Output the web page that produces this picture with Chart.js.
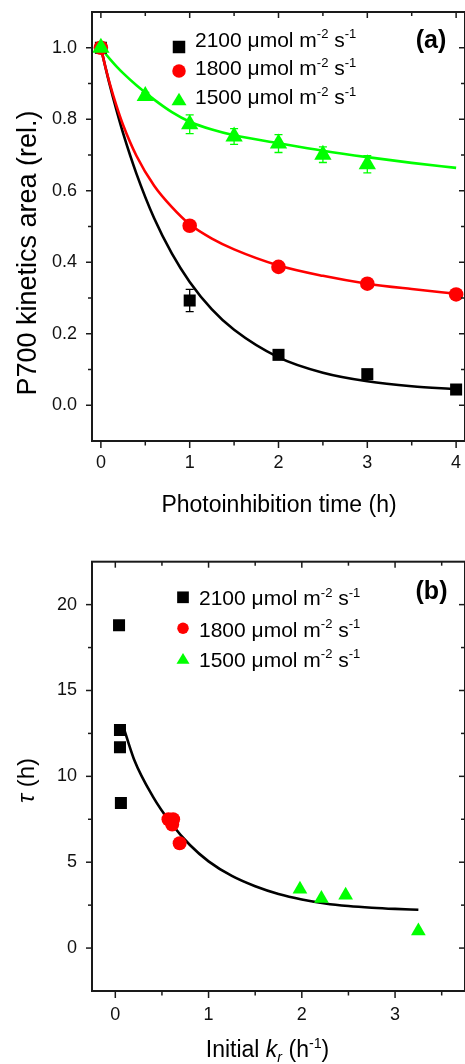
<!DOCTYPE html>
<html>
<head>
<meta charset="utf-8">
<script src="https://cdn.jsdelivr.net/npm/chart.js@4.4.1/dist/chart.umd.min.js"></script>
<style>
html,body{margin:0;padding:0;background:#fff;overflow:hidden;width:465px;height:1064px;}
#wrapA{position:absolute;left:0;top:0;width:465px;height:520px;}
#wrapB{position:absolute;left:0;top:520px;width:465px;height:544px;}
canvas{display:block;}
</style>
</head>
<body>
<div id="wrapA"><canvas id="chartA" width="465" height="520"></canvas></div>
<div id="wrapB"><canvas id="chartB" width="465" height="544"></canvas></div>
<script>
// ---------- DATA: panel (a) ----------
const t2100 = [0, 1, 2, 3, 4];
const p2100 = [1.0, 0.293, 0.141, 0.087, 0.044];
const e2100 = [0, 0.031, 0.008, 0.008, 0.008];

const t1800 = [0, 1, 2, 3, 4];
const p1800 = [1.0, 0.502, 0.387, 0.340, 0.310];
const e1800 = [0, 0.01, 0.008, 0.008, 0.008];

const t1500 = [0, 0.5, 1, 1.5, 2, 2.5, 3];
const p1500 = [1.0, 0.865, 0.786, 0.752, 0.732, 0.701, 0.674];
const e1500 = [0, 0.01, 0.026, 0.022, 0.025, 0.022, 0.024];

// fitted curves
const fitT     = [0, 0.05, 0.1, 0.175, 0.25, 0.4, 0.6, 0.8, 1, 1.25, 1.5, 2, 2.5, 3, 3.5, 4];
const fit2100  = [1.0, 0.947, 0.896, 0.826, 0.761, 0.648, 0.523, 0.424, 0.345, 0.268, 0.211, 0.134, 0.091, 0.067, 0.053, 0.045];
const fit1800  = [1.0, 0.947, 0.900, 0.838, 0.784, 0.698, 0.614, 0.554, 0.506, 0.466, 0.436, 0.391, 0.362, 0.340, 0.325, 0.312];
const fit1500  = [1.0, 0.984, 0.969, 0.948, 0.929, 0.895, 0.855, 0.820, 0.793, 0.771, 0.755, 0.733, 0.712, 0.694, 0.678, 0.664];

const xTicksA = [0, 1, 2, 3, 4];
const xMinorA = [0.5, 1.5, 2.5, 3.5];
const yTicksA = [0.0, 0.2, 0.4, 0.6, 0.8, 1.0];
const yMinorA = [0.1, 0.3, 0.5, 0.7, 0.9];

// ---------- DATA: panel (b) ----------
const kr2100  = [0.04, 0.05, 0.05, 0.06];
const tau2100 = [18.8, 12.7, 11.7, 8.45];
const kr1800  = [0.57, 0.62, 0.61, 0.69];
const tau1800 = [7.5, 7.5, 7.2, 6.1];
const kr1500  = [1.98, 2.21, 2.47, 3.25];
const tau1500 = [3.42, 2.88, 3.08, 1.0];

const fitKr  = [0.08, 0.2, 0.4, 0.6, 0.8, 1.0, 1.25, 1.5, 1.75, 2.0, 2.25, 2.5, 2.75, 3.0, 3.25];
const fitTau = [13.0, 11.0, 8.85, 7.25, 6.0, 5.05, 4.2, 3.6, 3.15, 2.83, 2.6, 2.45, 2.35, 2.28, 2.23];

const xTicksB = [0, 1, 2, 3];
const xMinorB = [0.5, 1.5, 2.5, 3.5];
const yTicksB = [0, 5, 10, 15, 20];
const yMinorB = [2.5, 7.5, 12.5, 17.5];

// ---------- TEXT ----------
const intensities = ['2100', '1800', '1500'];
const unitText = ' \u03bcmol m';
const xTitleA = 'Photoinhibition time (h)';
const yTitleA = 'P700 kinetics area (rel.)';
const panelA = '(a)';
const panelB = '(b)';

// ---------- STYLE ----------
const FONT = '"Liberation Sans", Arial, Helvetica, sans-serif';
const BLACK = '#000000', RED = '#ff0000', GREEN = '#00ff00';
const seriesColors = [BLACK, RED, GREEN];
const seriesStyles = ['rect', 'circle', 'triangle'];

function pts(xs, ys) { return xs.map((x, i) => ({x: x, y: ys[i]})); }

function drawRich(ctx, segs, x, y, size, rot, align) {
  ctx.save();
  ctx.translate(x, y);
  ctx.rotate(rot || 0);
  ctx.textBaseline = 'alphabetic';
  ctx.textAlign = 'left';
  ctx.fillStyle = '#000';
  let w = 0;
  const parts = segs.map(s => {
    const fs = (s.sup || s.sub) ? size * 0.62 : size;
    const font = (s.it ? 'italic ' : '') + (s.bold ? 'bold ' : '') + fs + 'px ' + FONT;
    ctx.font = font;
    const m = ctx.measureText(s.t).width;
    w += m;
    return {t: s.t, font: font, m: m, dy: s.sup ? -size * 0.40 : (s.sub ? size * 0.22 : 0)};
  });
  let cx = align === 'left' ? 0 : -w / 2;
  parts.forEach(p => { ctx.font = p.font; ctx.fillText(p.t, cx, p.dy); cx += p.m; });
  ctx.restore();
}

function drawMarker(ctx, style, x, y, size, color) {
  ctx.save();
  ctx.fillStyle = color;
  ctx.beginPath();
  if (style === 'rect') ctx.rect(x - size / 2, y - size / 2, size, size);
  else if (style === 'circle') ctx.arc(x, y, size / 2, 0, Math.PI * 2);
  else {
    const h = size * 0.82;
    ctx.moveTo(x, y - h / 2); ctx.lineTo(x + size / 2, y + h / 2); ctx.lineTo(x - size / 2, y + h / 2); ctx.closePath();
  }
  ctx.fill();
  ctx.restore();
}

const decoPlugin = {
  id: 'deco',
  beforeDatasetsDraw(chart) {
    const {ctx} = chart;
    const xs = chart.scales.x, ys = chart.scales.y;
    chart.data.datasets.forEach(ds => {
      if (!ds.errorBars) return;
      ctx.save();
      ctx.strokeStyle = ds.backgroundColor;
      ctx.lineWidth = 1.3;
      ds.data.forEach((d, j) => {
        const e = ds.errorBars[j];
        if (!e) return;
        const px = xs.getPixelForValue(d.x);
        const y1 = ys.getPixelForValue(d.y + e), y2 = ys.getPixelForValue(d.y - e);
        ctx.beginPath();
        ctx.moveTo(px, y1); ctx.lineTo(px, y2);
        ctx.moveTo(px - 4, y1); ctx.lineTo(px + 4, y1);
        ctx.moveTo(px - 4, y2); ctx.lineTo(px + 4, y2);
        ctx.stroke();
      });
      ctx.restore();
    });
  },
  afterDraw(chart, args, o) {
    const {ctx, chartArea: a} = chart;
    const xs = chart.scales.x, ys = chart.scales.y;
    ctx.save();
    ctx.strokeStyle = '#1a1a1a';
    ctx.lineWidth = 1.5;
    const seg = (x1, y1, x2, y2) => { ctx.beginPath(); ctx.moveTo(x1, y1); ctx.lineTo(x2, y2); ctx.stroke(); };
    o.xMajor.forEach(v => { const p = xs.getPixelForValue(v); seg(p, a.bottom, p, a.bottom + 7); seg(p, a.top, p, a.top + 6); });
    o.xMinor.forEach(v => { const p = xs.getPixelForValue(v); seg(p, a.bottom, p, a.bottom + 4.5); seg(p, a.top, p, a.top + 4); });
    o.yMajor.forEach(v => { const p = ys.getPixelForValue(v); seg(a.left - 6, p, a.left, p); seg(a.right - 6, p, a.right, p); });
    o.yMinor.forEach(v => { const p = ys.getPixelForValue(v); seg(a.left - 4, p, a.left, p); seg(a.right - 4, p, a.right, p); });
    ctx.lineWidth = 2;
    ctx.strokeRect(a.left, a.top, a.right - a.left, a.bottom - a.top);
    ctx.restore();

    // legend
    const L = o.legend;
    intensities.forEach((lab, i) => {
      drawMarker(ctx, seriesStyles[i], L.mx, L.my[i], L.msize[i], seriesColors[i]);
      drawRich(ctx, [{t: lab + unitText}, {t: '-2', sup: true}, {t: ' s'}, {t: '-1', sup: true}], L.tx, L.base[i], L.size, 0, 'left');
    });
    // titles
    o.titles.forEach(t => drawRich(ctx, t.segs, t.x, t.y, t.size, t.rot, 'center'));
  }
};

function scaleCfg(min, max, ticksArr, fmt, isX, fitSize, padR, labelLine) {
  return {
    type: 'linear', min: min, max: max,
    grid: {display: false, drawTicks: false},
    border: {display: false},
    afterBuildTicks: s => { s.ticks = ticksArr.map(v => ({value: v})); },
    afterFit: s => {
      if (isX) s.height = fitSize; else s.width = fitSize;
      s.paddingLeft = 0; s.paddingRight = padR; s.paddingTop = 0; s.paddingBottom = 0;
    },
    ticks: {
      padding: isX ? 0 : 15,
      autoSkip: false, maxRotation: 0,
      color: '#111',
      font: {family: FONT, size: 18, lineHeight: labelLine || 1.2},
      callback: fmt
    }
  };
}

Chart.defaults.font.family = FONT;

// ---------- Panel (a) ----------
const padRA = -2.2;
new Chart(document.getElementById('chartA'), {
  type: 'scatter',
  plugins: [decoPlugin],
  data: {
    datasets: [
      {label: intensities[2], data: pts(t1500, p1500), pointStyle: 'triangle', pointRadius: 10, backgroundColor: GREEN, borderColor: GREEN, pointBorderWidth: 0, errorBars: e1500, order: 0},
      {label: intensities[1], data: pts(t1800, p1800), pointStyle: 'circle', pointRadius: 7.3, backgroundColor: RED, borderColor: RED, pointBorderWidth: 0, errorBars: e1800, order: 1},
      {label: intensities[0], data: pts(t2100, p2100), pointStyle: 'rect', pointRadius: 8.5, backgroundColor: BLACK, borderColor: BLACK, pointBorderWidth: 0, errorBars: e2100, order: 2},
      {label: 'fit ' + intensities[2], data: pts(fitT, fit1500), showLine: true, pointRadius: 0, borderColor: GREEN, backgroundColor: GREEN, borderWidth: 2.6, cubicInterpolationMode: 'monotone', order: 3},
      {label: 'fit ' + intensities[1], data: pts(fitT, fit1800), showLine: true, pointRadius: 0, borderColor: RED, backgroundColor: RED, borderWidth: 2.6, cubicInterpolationMode: 'monotone', order: 4},
      {label: 'fit ' + intensities[0], data: pts(fitT, fit2100), showLine: true, pointRadius: 0, borderColor: BLACK, backgroundColor: BLACK, borderWidth: 2.6, cubicInterpolationMode: 'monotone', order: 5}
    ]
  },
  options: {
    responsive: false, animation: false,
    events: [],
    layout: {autoPadding: false, padding: {top: 12, right: padRA, left: 0, bottom: 0}},
    scales: {
      x: scaleCfg(-0.1, 4.1, xTicksA, v => String(v), true, 79, padRA, '45px'),
      y: scaleCfg(-0.1, 1.1, yTicksA, v => v.toFixed(1), false, 92, padRA)
    },
    plugins: {
      legend: {display: false},
      tooltip: {enabled: false},
      deco: {
        xMajor: xTicksA, xMinor: xMinorA, yMajor: yTicksA, yMinor: yMinorA,
        legend: {mx: 179, tx: 195, size: 21, my: [47, 71, 99], base: [46.5, 75, 104], msize: [12.5, 13.5, 15]},
        titles: [
          {segs: [{t: xTitleA}], x: 279, y: 511.5, size: 23, rot: 0},
          {segs: [{t: yTitleA}], x: 36, y: 253, size: 27, rot: -Math.PI / 2},
          {segs: [{t: panelA, bold: true}], x: 431, y: 48, size: 25, rot: 0}
        ]
      }
    }
  }
});

// ---------- Panel (b) ----------
const padRB = -1.7;
new Chart(document.getElementById('chartB'), {
  type: 'scatter',
  plugins: [decoPlugin],
  data: {
    datasets: [
      {label: intensities[2], data: pts(kr1500, tau1500), pointStyle: 'triangle', pointRadius: 8.5, backgroundColor: GREEN, borderColor: GREEN, pointBorderWidth: 0, order: 0},
      {label: intensities[1], data: pts(kr1800, tau1800), pointStyle: 'circle', pointRadius: 7, backgroundColor: RED, borderColor: RED, pointBorderWidth: 0, order: 1},
      {label: intensities[0], data: pts(kr2100, tau2100), pointStyle: 'rect', pointRadius: 8.5, backgroundColor: BLACK, borderColor: BLACK, pointBorderWidth: 0, order: 2},
      {label: 'fit', data: pts(fitKr, fitTau), showLine: true, pointRadius: 0, borderColor: BLACK, backgroundColor: BLACK, borderWidth: 2.6, cubicInterpolationMode: 'monotone', order: 3}
    ]
  },
  options: {
    responsive: false, animation: false,
    events: [],
    layout: {autoPadding: false, padding: {top: 41.7, right: padRB, left: 0, bottom: 0}},
    scales: {
      x: scaleCfg(-0.25, 3.75, xTicksB, v => String(v), true, 73, padRB, '48px'),
      y: scaleCfg(-2.5, 22.5, yTicksB, v => String(v), false, 92, padRB)
    },
    plugins: {
      legend: {display: false},
      tooltip: {enabled: false},
      deco: {
        xMajor: xTicksB, xMinor: xMinorB, yMajor: yTicksB, yMinor: yMinorB,
        legend: {mx: 183, tx: 199, size: 21, my: [77.3, 108.3, 138.3], base: [85, 116.7, 146.7], msize: [11.7, 11.5, 13]},
        titles: [
          {segs: [{t: 'Initial '}, {t: 'k', it: true}, {t: 'r', it: true, sub: true}, {t: ' (h'}, {t: '-1', sup: true}, {t: ')'}], x: 267.5, y: 536.7, size: 23, rot: 0},
          {segs: [{t: '\u03c4', it: true}, {t: ' (h)'}], x: 34, y: 260.5, size: 24, rot: -Math.PI / 2},
          {segs: [{t: panelB, bold: true}], x: 431.5, y: 79, size: 25, rot: 0}
        ]
      }
    }
  }
});
</script>
</body>
</html>
